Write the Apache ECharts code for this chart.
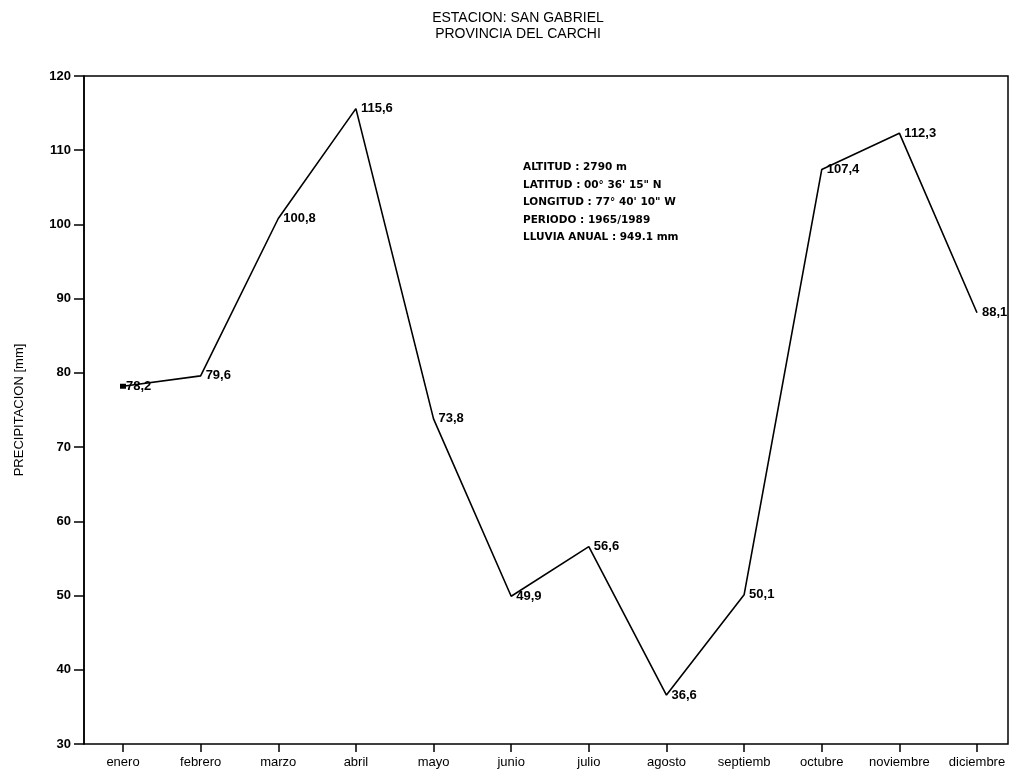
<!DOCTYPE html>
<html>
<head>
<meta charset="utf-8">
<title>San Gabriel - Precipitación</title>
<script src="https://cdn.jsdelivr.net/npm/echarts@6/dist/echarts.min.js"></script>
<style>
  html, body { margin: 0; padding: 0; background: #fff; }
  #chart { width: 1011px; height: 772px; }
</style>
</head>
<body>
<div id="chart"></div>
<script>
// Monthly precipitation, San Gabriel station
const months = ['enero', 'febrero', 'marzo', 'abril', 'mayo', 'junio',
                'julio', 'agosto', 'septiemb', 'octubre', 'noviembre', 'diciembre'];
const precipitation = [78.2, 79.6, 100.8, 115.6, 73.8, 49.9, 56.6, 36.6, 50.1, 107.4, 112.3, 88.1];
const yTicks = { min: 30, max: 120, step: 10 };
const stationInfo = [
  'ALTITUD : 2790 m',
  'LATITUD : 00\u00b0 36\' 15" N',
  'LONGITUD : 77\u00b0 40\' 10" W',
  'PERIODO : 1965/1989',
  'LLUVIA ANUAL : 949.1 mm'
];

const FONT = '"Liberation Sans", Arial, Helvetica, sans-serif';
const chart = echarts.init(document.getElementById('chart'), null, { renderer: 'canvas' });

const fmt = v => v.toFixed(1).replace('.', ',');

chart.setOption({
  backgroundColor: '#ffffff',
  animation: false,
  textStyle: { fontFamily: FONT, color: '#000' },
  title: [
    {
      text: 'ESTACION: SAN GABRIEL\nPROVINCIA DEL CARCHI',
      left: 513, top: 5, textAlign: 'center',
      textStyle: { fontFamily: FONT, fontSize: 14, fontWeight: 'normal', color: '#000', lineHeight: 16 }
    },
    {
      text: stationInfo.join('\n'),
      left: 518, top: 154,
      textStyle: { fontFamily: '"DejaVu Sans", sans-serif', fontSize: 10.5, fontWeight: 'bold', color: '#000', lineHeight: 17.5 }
    }
  ],
  grid: [
    // data area: category ticks span from the first to the last month
    { left: 123, right: 34, top: 76, bottom: 28, outerBoundsMode: 'none', containLabel: false },
    // outer frame holding the value axis
    { left: 84, right: 3, top: 76, bottom: 28, outerBoundsMode: 'none', containLabel: false,
      show: true, borderColor: '#000', borderWidth: 1.5, backgroundColor: 'transparent' }
  ],
  xAxis: [
    {
      gridIndex: 0, type: 'category', data: months, boundaryGap: false,
      name: 'MESES', nameLocation: 'middle', nameGap: 30,
      nameTextStyle: { fontFamily: FONT, fontSize: 13, color: '#000' },
      axisLine: { show: false },
      axisTick: { show: true, length: 8, lineStyle: { color: '#000', width: 1.5 } },
      axisLabel: { color: '#000', fontFamily: FONT, fontSize: 13, margin: 12, interval: 0 },
      splitLine: { show: false }
    },
    {
      gridIndex: 1, type: 'category', data: months, show: false
    }
  ],
  yAxis: [
    {
      gridIndex: 0, type: 'value', min: yTicks.min, max: yTicks.max, interval: yTicks.step, show: false
    },
    {
      gridIndex: 1, type: 'value', min: yTicks.min, max: yTicks.max, interval: yTicks.step,
      name: 'PRECIPITACION [mm]', nameLocation: 'middle', nameGap: 58, nameRotate: 90,
      nameTextStyle: { fontFamily: FONT, fontSize: 13, color: '#000' },
      axisLine: { show: true, lineStyle: { color: '#000', width: 1.5 } },
      axisTick: { show: true, length: 10, lineStyle: { color: '#000', width: 1.5 } },
      axisLabel: { color: '#000', fontFamily: FONT, fontSize: 13, fontWeight: 'bold', margin: 13 },
      splitLine: { show: false }
    }
  ],
  series: [
    {
      type: 'line', xAxisIndex: 0, yAxisIndex: 0,
      data: precipitation.map((v, i) => i === 0
        ? { value: v, symbol: 'rect', symbolSize: [6, 5], label: { distance: 0 } }
        : v),
      symbol: 'circle', symbolSize: 0, showSymbol: true,
      lineStyle: { color: '#000', width: 1.6 },
      itemStyle: { color: '#000' },
      label: {
        show: true, position: 'right', distance: 5,
        formatter: p => fmt(p.value),
        color: '#000', fontFamily: FONT, fontSize: 13, fontWeight: 'bold'
      },
      labelLayout: { hideOverlap: false }
    }
  ]
});
</script>
</body>
</html>
